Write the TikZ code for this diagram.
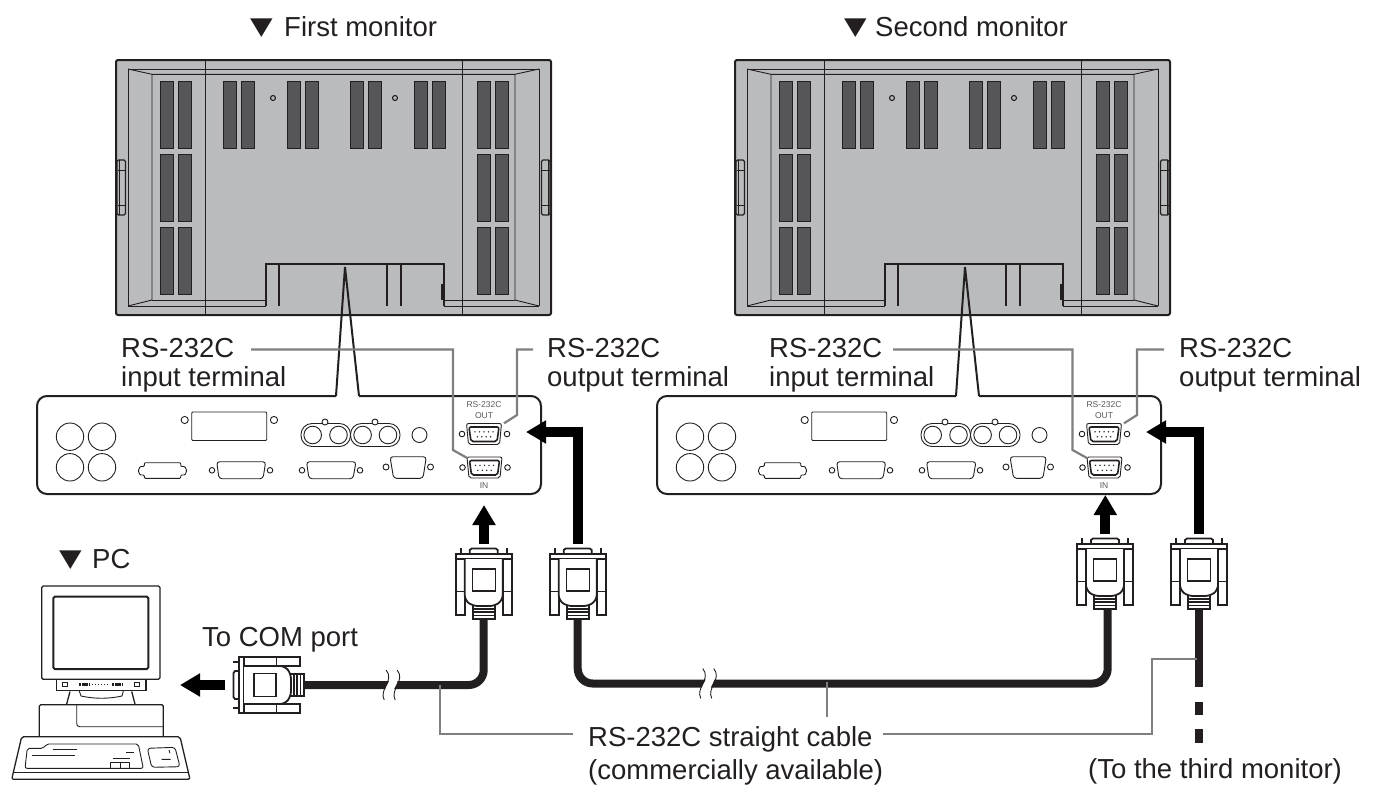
\documentclass[tikz,border=0pt]{standalone}
\usepackage{fontspec}
\setmainfont{Liberation Sans}
\newfontfamily\symfont{DejaVu Sans}
\usetikzlibrary{arrows.meta}
\definecolor{ink}{HTML}{231F20}
\definecolor{shell}{HTML}{B9BBBD}
\definecolor{ventfill}{HTML}{565658}
\definecolor{leadgray}{HTML}{7F7F7F}
\tikzset{
 lbl/.style={inner sep=0pt,anchor=base west,text=ink,font=\fontsize{27.5}{30}\selectfont},
 tri/.style={inner sep=0pt,anchor=base west,text=ink,font=\symfont\fontsize{28}{30}\selectfont},
 tiny/.style={inner sep=0pt,anchor=center,text=ink!75,font=\fontsize{8.5}{9}\selectfont},
 leader/.style={draw=leadgray,line width=2.2pt},
 cable/.style={draw=ink,line width=8pt},
 bigarrow/.style={draw=black,line width=10pt,miter limit=10,-{Triangle[length=20pt,width=22pt]}},
 fine/.style={draw=ink,line width=0.9pt},
 mid/.style={draw=ink,line width=1.3pt},
 plugline/.style={draw=ink,line width=1.8pt},
 heavy/.style={draw=ink,line width=2pt},
 vent/.style={draw=ink,line width=0.9pt,fill=ventfill},
 monitorback/.pic={
  \draw[heavy,fill=shell,rounded corners=2pt] (116,60) rectangle (551,315);
  \draw[fine] (205,60)--(205,315) (462,60)--(462,315);
  \draw[fine] (128,306)--(128,69)--(539,69)--(539,306);
  \draw[fine] (128,306)--(266,306) (444,306)--(539,306);
  \draw[fine] (128,69)--(152,74.3)--(515,74.3)--(539,69);
  \draw[fine] (152,74.3)--(152,300)--(128,306) (515,74.3)--(515,300)--(539,306);
  \draw[fine] (152,300)--(266,300) (444,300)--(515,300);
  \foreach \vx in {160,178,477,495}{
   \foreach \vy in {81,154,227}{
    \draw[vent] (\vx,\vy) rectangle ++(13,67);
   }
  }
  \foreach \vx in {223,241.5,287,305,350,368,414,432}{
    \draw[vent] (\vx,81) rectangle ++(13,67);
  }
  \draw[fine,line width=1.1pt] (273,98) circle (2.5) (395,98) circle (2.5);
  \draw[heavy] (266,306)--(266,264)--(444,264)--(444,306);
  \draw[heavy] (279,264)--(279,306) (387,264)--(387,306) (401,264)--(401,306);
  \draw[ink,line width=2.6pt] (442.5,284)--(442.5,300);
  \draw[mid,fill=shell,rounded corners=1.5pt] (117,160) rectangle (125.5,215);
  \draw[fine] (117.5,170)--(125.5,170) (117.5,205)--(125.5,205) (119,160)--(119,215);
  \draw[mid,fill=shell,rounded corners=1.5pt] (541.5,160) rectangle (550,215);
  \draw[fine] (541.5,170)--(549.5,170) (541.5,205)--(549.5,205) (548,160)--(548,215);
 },
 dsubport/.pic={
  \draw[fine,fill=white,rounded corners=2pt] (-17.5,-10.5)--(17.5,-10.5)--(15.5,10.5)--(-15.5,10.5)--cycle;
  \draw[heavy,line width=1.6pt,rounded corners=2pt] (-15,-7)--(15,-7)--(13,7.5)--(-13,7.5)--cycle;
  \foreach \px in {-9,-4.5,0,4.5,9}{\fill[ink] (\px,-2.2) circle (0.8);}
  \foreach \px in {-6.7,-2.2,2.2,6.7}{\fill[ink] (\px,2.8) circle (0.8);}
  \draw[fine] (-22,0) circle (2.8) (23,0) circle (2.8);
 },
 rearpanel/.pic={
  \draw[heavy,fill=white,rounded corners=10pt] (359,396)--(541,396)--(541,494)--(37,494)--(37,396)--(336,396);
  \draw[heavy] (336,396)--(345,267)--(359,396);
  \foreach \cx/\cy in {70/436.7,102/436.7,70/467.3,102/467.3}{\draw[fine] (\cx,\cy) circle (13.7);}
  \draw[fine,rounded corners=1pt] (191.7,412) rectangle (266.7,440.5);
  \draw[fine] (184.7,420) circle (3.6) (274,420) circle (3.6);
  \draw[fine,rounded corners=1pt] (144.3,462.7)--(180.7,462.7)--(180.7,466.5)--(185,466.5)--(186.7,470.7)--(185,475)--(180.7,475)--(180.7,478.3)--(144.3,478.3)--(144.3,475)--(140,475)--(138.3,470.7)--(140,466.5)--(144.3,466.5)--cycle;
  \draw[fine,rounded corners=3pt] (216.7,461.7)--(265.7,461.7)--(263,478.7)--(219,478.7)--cycle;
  \draw[fine] (212,470.3) circle (2.8) (270,470.3) circle (2.8);
  \draw[fine,rounded corners=3pt] (306.5,461.7)--(356,461.7)--(353,478.7)--(309,478.7)--cycle;
  \draw[fine] (302,470.3) circle (2.8) (360,470.3) circle (2.8);
  \draw[fine,rounded corners=3pt] (390,456.7)--(426.3,456.7)--(423,478.3)--(393.6,478.3)--cycle;
  \draw[fine] (386,467) circle (3) (430.5,467) circle (3);
  \draw[fine,rounded corners=11pt] (301,423.5) rectangle (350.5,446.5);
  \draw[fine,rounded corners=11pt] (350.5,423.5) rectangle (400,446.5);
  \foreach \cx in {312.7,338.5,362.6,388}{\draw[fine] (\cx,435) circle (8.8);}
  \draw[fine,fill=white] (325,422) circle (3) (375,422) circle (3);
  \draw[fine] (419.5,435) circle (7.5);
  \pic at (484,434) {dsubport};
  \pic at (484.5,467.5) {dsubport};
 },
 dsubplug/.pic={
  \draw[ink,line width=1.6pt] (-23,0)--(-23,6) (23,0)--(23,6);
  \draw[plugline,fill=white] (-14,6)--(-14,2)--(-12,0.5)--(12,0.5)--(14,2)--(14,6);
  \draw[plugline,fill=white] (-28,6)--(-28,67)--(-19,67)--(-19,6);
  \draw[plugline,fill=white] (28,6)--(28,67)--(19,67)--(19,6);
  \draw[fine] (-28,43)--(-19,43) (19,43)--(28,43);
  \draw[plugline,fill=white] (-28,6) rectangle (28,11);
  \draw[plugline,fill=white] (-11,57) rectangle (11,71);
  \draw[mid] (-11,61)--(11,61) (-11,64)--(11,64) (-11,67.5)--(11,67.5);
  \draw[plugline,fill=white,rounded corners=5pt] (-19,11)--(-19,52)--(-11,58)--(11,58)--(19,52)--(19,11);
  \draw[mid] (-11.5,21) rectangle (11.5,43);
 },
 cablebreak/.pic={
  \draw[white,line width=8pt] (0,-13) .. controls (8,-3) and (-8,4) .. (-2,13);
  \draw[fine] (-5.5,-15) .. controls (3,-4) and (-13,4) .. (-7.5,15);
  \draw[fine] (5.5,-15) .. controls (14,-4) and (-2,4) .. (3.5,15);
 }
}
\newcommand{\downmark}{\scalebox{1.05}[0.87]{▼}}
\begin{document}
\begin{tikzpicture}[x=1pt,y=-1pt]
\useasboundingbox (0,0) rectangle (1373,801);
% titles
\node[tri] (tri1) at (250,34) {\downmark};
\node[lbl] (title1) at (284,36) {First monitor};
\node[tri] (tri2) at (844,34) {\downmark};
\node[lbl] (title2) at (875,36) {Second monitor};
\node[tri] (tri3) at (59,566) {\downmark};
\node[lbl] (title3) at (92,568) {PC};
% monitors and panels
\pic at (0,0) {monitorback};
\pic at (619,0) {monitorback};
\pic at (0,0) {rearpanel};
\pic at (620,0) {rearpanel};
\node[tiny] (rsA) at (484,405) {RS-232C};
\node[tiny] (outA) at (484,415.5) {OUT};
\node[tiny] (inA) at (484,486) {IN};
\node[tiny] (rsB) at (1104,405) {RS-232C};
\node[tiny] (outB) at (1104,415.5) {OUT};
\node[tiny] (inB) at (1104,486) {IN};
% labels
\node[lbl] (inL1) at (121,357) {RS-232C};
\node[lbl] (inL2) at (121,386) {input terminal};
\node[lbl] (outL1) at (547,357) {RS-232C};
\node[lbl] (outL2) at (547,386) {output terminal};
\node[lbl] (inR1) at (769,357) {RS-232C};
\node[lbl] (inR2) at (769,386) {input terminal};
\node[lbl] (outR1) at (1179,357) {RS-232C};
\node[lbl] (outR2) at (1179,386) {output terminal};
\node[lbl] (com) at (202,646) {To COM port};
\node[lbl] (cab1) at (588,746) {RS-232C straight cable};
\node[lbl] (cab2) at (588,779) {(commercially available)};
\node[lbl] (third) at (1088,778) {(To the third monitor)};
% leader anchors
\coordinate (l1a) at (251,349.5); \coordinate (l1b) at (453,349.5); \coordinate (l1c) at (453,450); \coordinate (l1d) at (467.7,458.3);
\coordinate (l2a) at (533,349.5); \coordinate (l2b) at (517,349.5); \coordinate (l2c) at (517,415); \coordinate (l2d) at (504,423.3);
\coordinate (l3a) at (893,349.5); \coordinate (l3b) at (1072.5,349.5); \coordinate (l3c) at (1072.5,450); \coordinate (l3d) at (1087.5,458.3);
\coordinate (l4a) at (1164,349.5); \coordinate (l4b) at (1137,349.5); \coordinate (l4c) at (1137,415); \coordinate (l4d) at (1124,423.3);
\draw[leader] (l1a)--(l1b)--(l1c)--(l1d);
\draw[leader] (l2a)--(l2b)--(l2c)--(l2d);
\draw[leader] (l3a)--(l3b)--(l3c)--(l3d);
\draw[leader] (l4a)--(l4b)--(l4c)--(l4d);
% thick arrows
\coordinate (a1s) at (484,544); \coordinate (a1t) at (484,505);
\coordinate (a2s) at (578,544); \coordinate (a2t) at (526,432);
\coordinate (a3s) at (1105.3,534); \coordinate (a3t) at (1105.3,495);
\coordinate (a4s) at (1198.7,534); \coordinate (a4t) at (1146,432);
\coordinate (a5s) at (225,685); \coordinate (a5t) at (180,685);
\draw[bigarrow] (a1s)--(a1t);
\draw[bigarrow] (a2s)|-(a2t);
\draw[bigarrow] (a3s)--(a3t);
\draw[bigarrow] (a4s)|-(a4t);
\draw[bigarrow] (a5s)--(a5t);
% cables
\coordinate (pcC) at (300,685);
\coordinate (c1b) at (483.7,615);
\coordinate (c2b) at (577.7,615);
\coordinate (c2low) at (577.7,683.5);
\coordinate (c3low) at (1107.7,683.5);
\coordinate (c3b) at (1107.7,605);
\coordinate (c4b) at (1199,605);
\coordinate (c4end) at (1199,743);
\draw[cable,rounded corners=15pt] (pcC)-|(c1b);
\draw[cable,rounded corners=15pt] (c2b)--(c2low)--(c3low)--(c3b);
\draw[cable,dash pattern=on 82pt off 15pt on 13pt off 14pt on 14pt off 100pt] (c4b)--(c4end);
\pic at (391.7,685) {cablebreak};
\pic at (708.3,683.5) {cablebreak};
% plugs
\pic at (483.7,548) {dsubplug};
\pic at (577.7,548) {dsubplug};
\pic at (1105,538) {dsubplug};
\pic at (1199,538) {dsubplug};
\pic[rotate=90] at (233,685) {dsubplug};
% lower leaders
\coordinate (b1a) at (440,685); \coordinate (b1b) at (440,734.3); \coordinate (b1c) at (573,734.3);
\coordinate (b2a) at (826.7,682); \coordinate (b2b) at (826.7,716.7);
\coordinate (b3a) at (1197,659.3); \coordinate (b3b) at (1152.3,659.3); \coordinate (b3c) at (1152.3,734.3); \coordinate (b3d) at (883,734.3);
\draw[leader] (b1a)--(b1b)--(b1c);
\draw[leader] (b2a)--(b2b);
\draw[leader] (b3a)--(b3b)--(b3c)--(b3d);
% PC
\draw[mid,fill=white,rounded corners=1.5pt] (41.7,586) rectangle (160,679.3);
\draw[heavy,rounded corners=1.5pt] (53.3,596.7) rectangle (148.3,669);
\draw[mid] (56.7,679.3)--(56.7,690.7)--(146,690.7)--(146,679.3);
\draw[fine] (62,682.5) rectangle (67,686.5) (134,682.5) rectangle (139,686.5);
\draw[ink,line width=2.5pt,dash pattern=on 2.4pt off 0.8pt] (79,684.5)--(90,684.5);
\draw[ink,line width=2.5pt,dash pattern=on 2.4pt off 0.8pt] (112,684.5)--(122,684.5);
\draw[ink,line width=0.5pt,dash pattern=on 1pt off 2pt] (92,684.5)--(110,684.5);
\draw[mid] (66.7,704)--(70,691.5) (135,704)--(131.7,691.5);
\draw[fine] (79.3,691)--(81,696) .. controls (95,699) and (108,699) .. (122,696)--(123.3,691);
\draw[mid,rounded corners=1.5pt] (39.3,736.7)--(39.3,704.7)--(163.3,704.7)--(163.3,736.7);
\draw[fine,rounded corners=3pt] (76.7,705)--(76.7,726.7)--(163.3,726.7);
\draw[mid,rounded corners=2pt] (21.7,736.7)--(180,736.7)--(190,779.3)--(11.7,779.3)--cycle;
\draw[fine] (13,772.7)--(189,772.7);
\draw[fine,rounded corners=2pt] (27.3,748.3)--(43.3,748.3)--(46.7,744)--(138.3,744)--(143.3,768.3)--(25,768.3)--cycle;
\draw[fine] (52.7,749.3)--(76.7,749.3) (31.7,755)--(75,755) (126,752.3)--(134,752.3) (112.7,758.3)--(130,758.3);
\draw[fine] (110.7,768.3)--(110.7,762.7)--(129.3,762.7)--(129.3,768.3) (120,762.7)--(120,768.3);
\draw[fine,rounded corners=3pt] (147.3,748.3)--(175,747.3)--(180,766.7)--(151.7,767.3)--cycle;
\draw[fine] (161.7,759.3)--(170.7,759.3) (169,750)--(170,753.3);
\end{tikzpicture}
\end{document}
